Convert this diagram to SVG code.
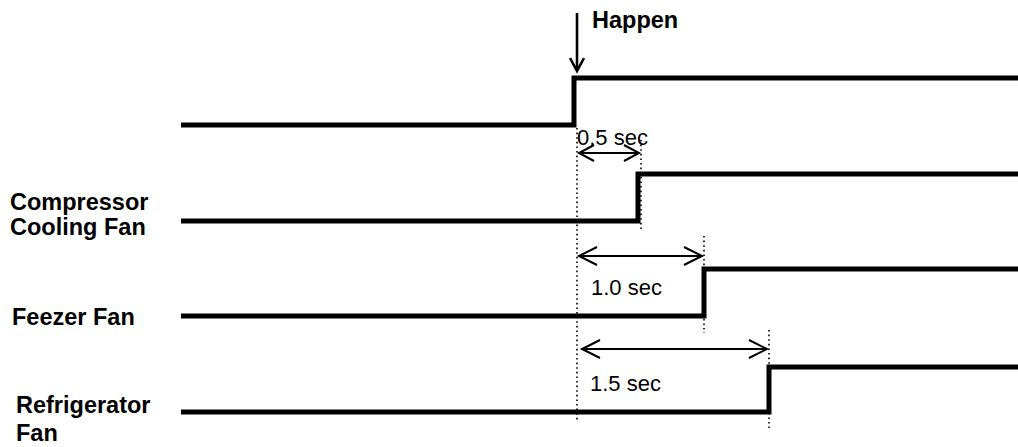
<svg xmlns="http://www.w3.org/2000/svg" width="1018" height="447" viewBox="0 0 1018 447">
<style>
.sig{fill:none;stroke:#000;stroke-width:5;stroke-linejoin:miter}
.dot{fill:none;stroke:#000;stroke-width:1.6;stroke-dasharray:1.6 3}
.dim{fill:none;stroke:#000;stroke-width:2}
.hap{fill:none;stroke:#000;stroke-width:2.6}
.lbl{font-family:"Liberation Sans",Arial,sans-serif;font-weight:bold;font-size:23.5px;fill:#000}
.t{font-family:"Liberation Sans",Arial,sans-serif;font-size:22px;fill:#000}
</style>
<rect width="1018" height="447" fill="#fff"/>
<g id="labels">
<text class="lbl" x="592" y="28">Happen</text>
<text class="lbl" x="10" y="210">Compressor</text>
<text class="lbl" x="10" y="235">Cooling Fan</text>
<text class="lbl" x="12" y="325">Feezer Fan</text>
<text class="lbl" x="16" y="413">Refrigerator</text>
<text class="lbl" x="16" y="441">Fan</text>
</g>
<g id="signal-main"><polyline class="sig" points="181,125 574,125 574,78 1018,78"/></g>
<g id="signal-compressor"><polyline class="sig" points="181,221 638,221 638,174 1018,174"/></g>
<g id="signal-freezer"><polyline class="sig" points="181,316 704,316 704,269 1018,269"/></g>
<g id="signal-refrigerator"><polyline class="sig" points="181,412 769,412 769,367 1018,367"/></g>
<g id="connectors">
<line class="hap" x1="577" y1="13" x2="577" y2="70"/>
<polyline class="hap" points="570,58 577,71 584,58"/>
<line class="dot" x1="577" y1="128" x2="577" y2="420"/>
<line class="dot" x1="641" y1="140" x2="641" y2="232"/>
<line class="dot" x1="704" y1="236" x2="704" y2="333"/>
<line class="dot" x1="769" y1="330" x2="769" y2="428"/>
<line class="dim" x1="579" y1="153" x2="639" y2="153"/>
<polyline class="dim" points="594,145 579,153 594,161"/>
<polyline class="dim" points="624,145 639,153 624,161"/>
<line class="dim" x1="579" y1="256" x2="702" y2="256"/>
<polyline class="dim" points="597,247 579,256 597,265"/>
<polyline class="dim" points="684,247 702,256 684,265"/>
<line class="dim" x1="582" y1="349" x2="767" y2="349"/>
<polyline class="dim" points="600,340 582,349 600,358"/>
<polyline class="dim" points="749,340 767,349 749,358"/>
</g>
<g id="dim-labels">
<text class="t" x="577" y="145">0.5 sec</text>
<text class="t" x="591" y="295">1.0 sec</text>
<text class="t" x="590" y="391">1.5 sec</text>
</g>
</svg>
